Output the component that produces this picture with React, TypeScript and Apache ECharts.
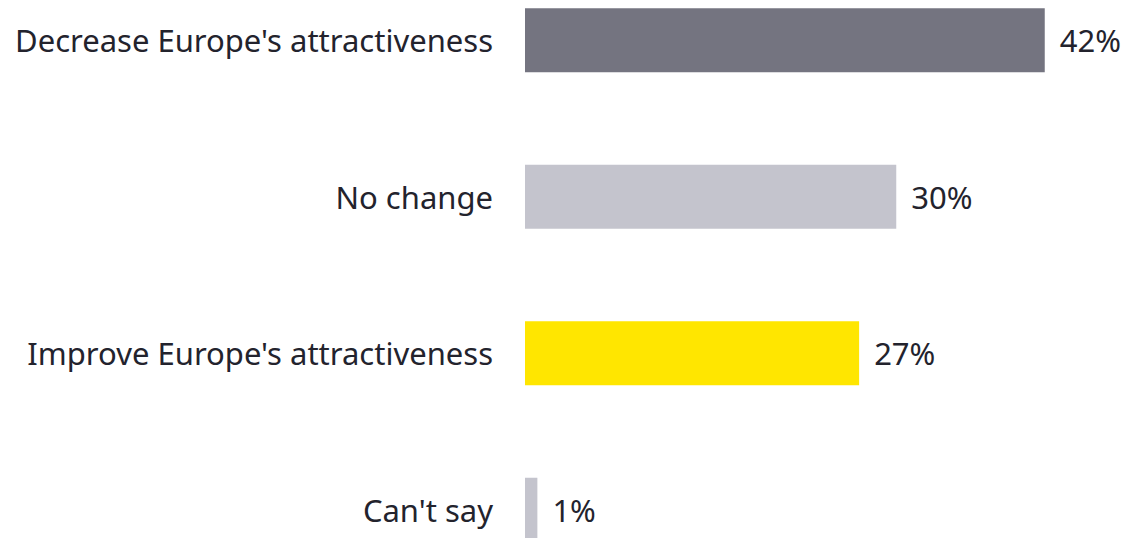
import React, { useEffect, useRef } from "react";
import * as echarts from "echarts";

const categories = [
  "Decrease Europe's attractiveness",
  "No change",
  "Improve Europe's attractiveness",
  "Can't say",
];
const values = [42, 30, 27, 1];
const colors = ["#747480", "#C4C4CD", "#FFE600", "#C4C4CD"];

export default function App() {
  const ref = useRef<HTMLDivElement>(null);
  useEffect(() => {
    if (!ref.current) return;
    const chart = echarts.init(ref.current, null, { renderer: "svg" });
    chart.setOption({
      animation: false,
      textStyle: { fontFamily: "Noto Sans" },
      grid: { left: 525, width: 594, top: 0, height: 626, containLabel: false },
      xAxis: {
        type: "value",
        min: 0,
        max: 48,
        show: false,
      },
      yAxis: {
        type: "category",
        data: categories,
        inverse: true,
        axisLine: { show: false },
        axisTick: { show: false },
        axisLabel: {
          margin: 32,
          fontSize: 31,
          color: "#23232D",
          fontFamily: "Noto Sans",
        },
      },
      series: [
        {
          type: "bar",
          barWidth: 64,
          data: values.map((v, i) => ({ value: v, itemStyle: { color: colors[i] } })),
          label: {
            show: true,
            position: "right",
            distance: 15,
            formatter: "{c}%",
            fontSize: 31,
            color: "#23232D",
            fontFamily: "Noto Sans",
          },
        },
      ],
    });
    return () => chart.dispose();
  }, []);
  return (
    <div
      ref={ref}
      style={{ position: "absolute", left: 0, top: -38, width: 1124, height: 626, background: "#fff" }}
    />
  );
}
